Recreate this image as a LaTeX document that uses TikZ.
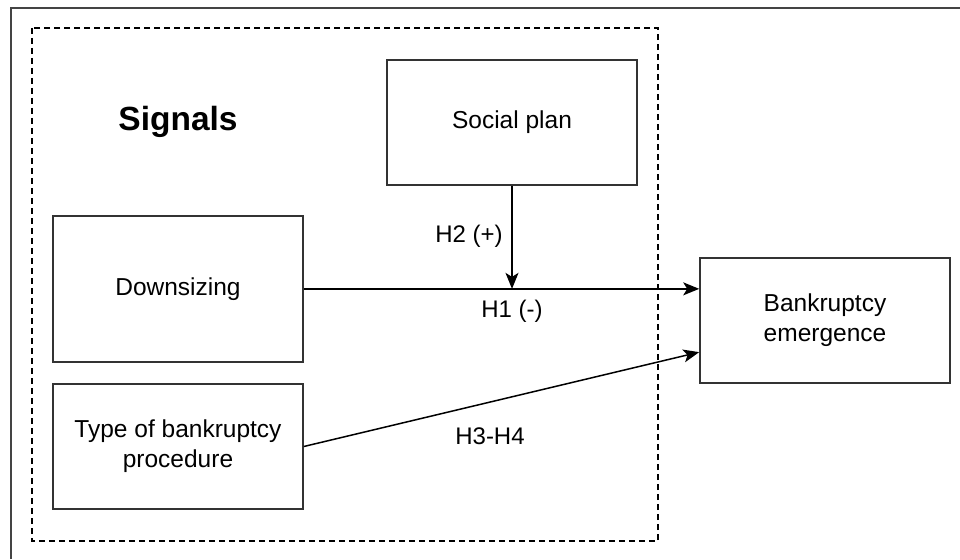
\documentclass[tikz,border=0pt]{standalone}
\usepackage{fontspec}
\setmainfont{Liberation Sans}
\usetikzlibrary{arrows.meta,calc}
\definecolor{frame}{HTML}{444444}
\definecolor{boxline}{HTML}{333333}
\tikzset{
  x=1pt,y=-1pt,
  stepbox/.style={draw=boxline,line width=1.6pt,fill=white,minimum width=250pt,minimum height=125pt,
    align=center,font=\fontsize{24.5}{30}\selectfont,inner sep=0pt},
  link/.style={line width=1.5pt,-{Stealth[length=16pt,width=13pt,inset=4pt]}},
  lbl/.style={font=\fontsize{24}{28}\selectfont,inner sep=0pt}
}
\begin{document}
\begin{tikzpicture}
\useasboundingbox (0,0) rectangle (960,559);
\fill[white] (0,0) rectangle (960,559);
% outer frame
\draw[frame,line width=2.4pt] (11,559) -- (11,8) -- (960,8);
% dashed group
\draw[line width=1.6pt,dash pattern=on 6pt off 4pt] (32,28) rectangle (658,541);
% nodes
\node[stepbox] (sp) at (512,122.5) {Social plan};
\node[stepbox,minimum height=146pt] (ds) at (178,289) {Downsizing};
\node[stepbox] (tb) at (178,446.5) {Type of bankruptcy\\procedure};
\node[stepbox] (be) at (825,320.5) {Bankruptcy\\emergence};
\node[font=\bfseries\fontsize{33.5}{40}\selectfont,inner sep=0pt] (sig) at (178,122) {Signals};
% connectors
\coordinate (beA) at ($(be.north west)!0.25!(be.south west)$);
\coordinate (beB) at ($(be.north west)!0.75!(be.south west)$);
\draw[link] (ds.east |- beA) -- (beA);
\draw[link] (sp.south) -- (sp.south |- beA);
\draw[link] (tb.east) -- (beB);
% labels
\node[lbl] (h2) at (469,236) {H2 (+)};
\node[lbl] (h1) at (512,311) {H1 (-)};
\node[lbl] (h34) at (490,436) {H3-H4};
\end{tikzpicture}
\end{document}
